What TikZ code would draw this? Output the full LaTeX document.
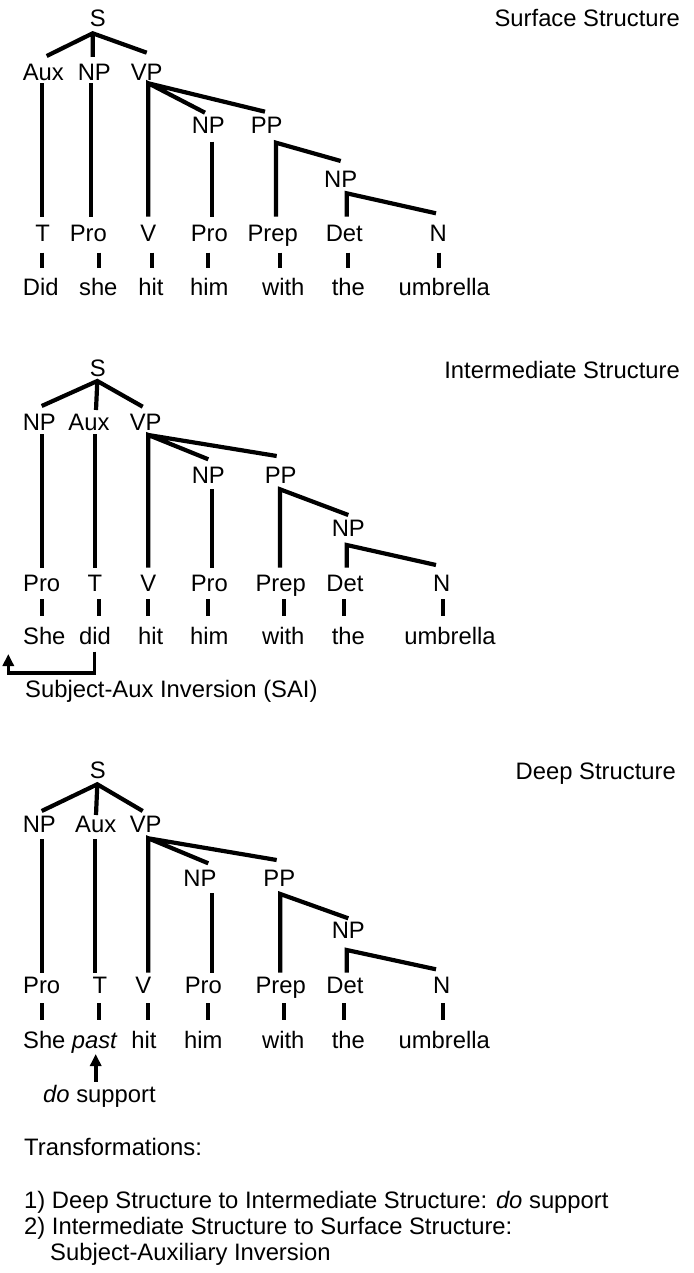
\documentclass[tikz,border=0pt]{standalone}
\usepackage{fontspec}
\setmainfont{Liberation Sans}
\usetikzlibrary{arrows.meta}
\begin{document}
\begin{tikzpicture}[x=1pt,y=-1pt,
  lbl/.style={anchor=base,inner sep=0pt,font=\fontsize{23.8}{28}\selectfont},
  lblr/.style={anchor=base east,inner sep=0pt,font=\fontsize{23.8}{28}\selectfont},
  lbll/.style={anchor=base west,inner sep=0pt,font=\fontsize{23.8}{28}\selectfont},
  br/.style={line width=4.2pt},
  arr/.style={line width=3.6pt,-{Triangle[width=11pt,length=12pt]}}]
\useasboundingbox (0,0) rectangle (693,1273);
% ================= Surface structure =================
\node[lblr] (t1) at (680,27) {Surface Structure};
\node[lbl] (aS) at (97.7,26.7) {S};
\node[lbl] (aAux) at (43.3,81) {Aux};
\node[lbl] (aNP) at (94.3,81) {NP};
\node[lbl] (aVP) at (146.7,81) {VP};
\node[lbl] (aNPb) at (208.3,133.3) {NP};
\node[lbl] (aPP) at (266.7,133.3) {PP};
\node[lbl] (aNPc) at (340.7,187.7) {NP};
\node[lbl] (aT) at (42.7,241.7) {T};
\node[lbl] (aPro) at (88.3,241.7) {Pro};
\node[lbl] (aV) at (148.3,241.7) {V};
\node[lbl] (aProb) at (209.3,241.7) {Pro};
\node[lbl] (aPrep) at (272.7,241.7) {Prep};
\node[lbl] (aDet) at (344.3,241.7) {Det};
\node[lbl] (aN) at (438.3,241.7) {N};
\node[lbl] (aw1) at (40.7,295) {Did};
\node[lbl] (aw2) at (98.3,295) {she};
\node[lbl] (aw3) at (151,295) {hit};
\node[lbl] (aw4) at (209.3,295) {him};
\node[lbl] (aw5) at (283.3,295) {with};
\node[lbl] (aw6) at (348.3,295) {the};
\node[lbl] (aw7) at (444.3,295) {umbrella};
\coordinate (aSb) at (92.7,33.3);
\coordinate (aSl) at (46.7,56);
\coordinate (aSm) at (92.7,57);
\coordinate (aSr) at (146.7,52.7);
\draw[br] (aSl) -- (aSb) -- (aSr) (aSb) -- (aSm);
\coordinate (aAuxt) at (42,83.3); \coordinate (aAuxd) at (42,216.7);
\coordinate (aNPt) at (90.7,83.3); \coordinate (aNPd) at (90.7,216.7);
\draw[br] (aAuxt) -- (aAuxd) (aNPt) -- (aNPd);
\coordinate (aVPb) at (148.3,83.3); \coordinate (aVPd) at (148.3,216.7);
\coordinate (aVPn) at (205,112.7); \coordinate (aVPp) at (265,111.7);
\draw[br] (aVPd) -- (aVPb) -- (aVPn) (aVPb) -- (aVPp);
\coordinate (aNPbt) at (211.7,141.7); \coordinate (aNPbd) at (211.7,216.7);
\draw[br] (aNPbt) -- (aNPbd);
\coordinate (aPPb) at (276,142.7); \coordinate (aPPd) at (276,216.7); \coordinate (aPPr) at (340.7,161);
\draw[br] (aPPd) -- (aPPb) -- (aPPr);
\coordinate (aNPcb) at (346.7,193.3); \coordinate (aNPcd) at (346.7,216.7); \coordinate (aNPcr) at (436,213.3);
\draw[br] (aNPcd) -- (aNPcb) -- (aNPcr);
\foreach \x in {42,98.7,152,208,280,348,438.7} \draw[br] (\x,252.7) -- (\x,267.7);
% ================= Intermediate structure =================
\node[lblr] (t2) at (680,378.5) {Intermediate Structure};
\node[lbl] (bS) at (97.7,376.7) {S};
\node[lbl] (bNP) at (39.3,430) {NP};
\node[lbl] (bAux) at (89,430) {Aux};
\node[lbl] (bVP) at (145.7,430) {VP};
\node[lbl] (bNPb) at (208.3,483.3) {NP};
\node[lbl] (bPP) at (280.7,483.3) {PP};
\node[lbl] (bNPc) at (348.3,536) {NP};
\node[lbl] (bPro) at (41.7,591) {Pro};
\node[lbl] (bT) at (95,591) {T};
\node[lbl] (bV) at (148.3,591) {V};
\node[lbl] (bProb) at (209.3,591) {Pro};
\node[lbl] (bPrep) at (280.7,591) {Prep};
\node[lbl] (bDet) at (345,591) {Det};
\node[lbl] (bN) at (441.7,591) {N};
\node[lbl] (bw1) at (44.3,644.3) {She};
\node[lbl] (bw2) at (95,644.3) {did};
\node[lbl] (bw3) at (150.7,644.3) {hit};
\node[lbl] (bw4) at (209.3,644.3) {him};
\node[lbl] (bw5) at (283.3,644.3) {with};
\node[lbl] (bw6) at (348.3,644.3) {the};
\node[lbl] (bw7) at (450,644.3) {umbrella};
\coordinate (bSb) at (97.3,381);
\coordinate (bSl) at (41.7,406);
\coordinate (bSm) at (96,410);
\coordinate (bSr) at (142.7,406.7);
\draw[br] (bSl) -- (bSb) -- (bSr) (bSb) -- (bSm);
\coordinate (bNPt) at (42,434.3); \coordinate (bNPd) at (42,567.7);
\coordinate (bAuxt) at (95,434.3); \coordinate (bAuxd) at (95,567.7);
\draw[br] (bNPt) -- (bNPd) (bAuxt) -- (bAuxd);
\coordinate (bVPb) at (148.3,435); \coordinate (bVPd) at (148.3,567.7);
\coordinate (bVPn) at (208.3,459.3); \coordinate (bVPp) at (276.7,456);
\draw[br] (bVPd) -- (bVPb) -- (bVPn) (bVPb) -- (bVPp);
\coordinate (bNPbt) at (211.7,489.3); \coordinate (bNPbd) at (211.7,567.7);
\draw[br] (bNPbt) -- (bNPbd);
\coordinate (bPPb) at (280,489.3); \coordinate (bPPd) at (280,567.7); \coordinate (bPPr) at (348.3,515);
\draw[br] (bPPd) -- (bPPb) -- (bPPr);
\coordinate (bNPcb) at (346.7,545); \coordinate (bNPcd) at (346.7,567.7); \coordinate (bNPcr) at (436,565);
\draw[br] (bNPcd) -- (bNPcb) -- (bNPcr);
\foreach \x in {41.7,99,147.7,208.3,284,344.3,443.3} \draw[br] (\x,599) -- (\x,615.7);
\coordinate (sai1) at (94.3,651.7);
\coordinate (sai2) at (94.3,672.7);
\coordinate (sai3) at (8.3,672.7);
\coordinate (sai4) at (8.3,654);
\draw[arr] (sai1) -- (sai2) -- (sai3) -- (sai4);
\node[lbll] (sai) at (25,697) {Subject-Aux Inversion (SAI)};
% ================= Deep structure =================
\node[lblr] (t3) at (676,779) {Deep Structure};
\node[lbl] (cS) at (97.7,778.3) {S};
\node[lbl] (cNP) at (39.3,832.7) {NP};
\node[lbl] (cAux) at (95.7,832.7) {Aux};
\node[lbl] (cVP) at (145.7,832.7) {VP};
\node[lbl] (cNPb) at (200,886) {NP};
\node[lbl] (cPP) at (279.3,886) {PP};
\node[lbl] (cNPc) at (348.3,938.3) {NP};
\node[lbl] (cPro) at (41.7,993.3) {Pro};
\node[lbl] (cT) at (100,993.3) {T};
\node[lbl] (cV) at (143.3,993.3) {V};
\node[lbl] (cProb) at (203.3,993.3) {Pro};
\node[lbl] (cPrep) at (280.7,993.3) {Prep};
\node[lbl] (cDet) at (345,993.3) {Det};
\node[lbl] (cN) at (441.7,993.3) {N};
\node[lbl] (cw1) at (44.3,1048.3) {She};
\node[lbl] (cw2) at (94.3,1048.3) {\itshape past};
\node[lbl] (cw3) at (144,1048.3) {hit};
\node[lbl] (cw4) at (203.3,1048.3) {him};
\node[lbl] (cw5) at (283.3,1048.3) {with};
\node[lbl] (cw6) at (348.3,1048.3) {the};
\node[lbl] (cw7) at (444.3,1048.3) {umbrella};
\coordinate (cSb) at (97.3,784.3);
\coordinate (cSl) at (41.7,811);
\coordinate (cSm) at (96,815);
\coordinate (cSr) at (142.7,811);
\draw[br] (cSl) -- (cSb) -- (cSr) (cSb) -- (cSm);
\coordinate (cNPt) at (42,839.3); \coordinate (cNPd) at (42,972.7);
\coordinate (cAuxt) at (95,839.3); \coordinate (cAuxd) at (95,972.7);
\draw[br] (cNPt) -- (cNPd) (cAuxt) -- (cAuxd);
\coordinate (cVPb) at (148.3,838.3); \coordinate (cVPd) at (148.3,972.7);
\coordinate (cVPn) at (208.3,863.3); \coordinate (cVPp) at (276.7,860);
\draw[br] (cVPd) -- (cVPb) -- (cVPn) (cVPb) -- (cVPp);
\coordinate (cNPbt) at (211.7,893.3); \coordinate (cNPbd) at (211.7,972.7);
\draw[br] (cNPbt) -- (cNPbd);
\coordinate (cPPb) at (280.3,894); \coordinate (cPPd) at (280.3,972.7); \coordinate (cPPr) at (348.3,918.3);
\draw[br] (cPPd) -- (cPPb) -- (cPPr);
\coordinate (cNPcb) at (346.7,950); \coordinate (cNPcd) at (346.7,972.7); \coordinate (cNPcr) at (436,969.3);
\draw[br] (cNPcd) -- (cNPcb) -- (cNPcr);
\foreach \x in {41.7,99,147.7,208.3,284,344.3,443.3} \draw[br] (\x,1003.3) -- (\x,1020);
\coordinate (do1) at (95.7,1081.7);
\coordinate (do2) at (95.7,1054);
\draw[arr] (do1) -- (do2);
\node[lbll] (dos) at (43,1102) {\itshape do\upshape{} support};
% ================= Transformations =================
\node[lbll] (tr0) at (24,1155.5) {Transformations:};
\node[lbll] (tr1) at (24,1208.5) {1) Deep Structure to Intermediate Structure: \itshape do\upshape{} support};
\node[lbll] (tr2) at (24,1234.5) {2) Intermediate Structure to Surface Structure:};
\node[lbll] (tr3) at (50,1260.5) {Subject-Auxiliary Inversion};
\end{tikzpicture}
\end{document}
